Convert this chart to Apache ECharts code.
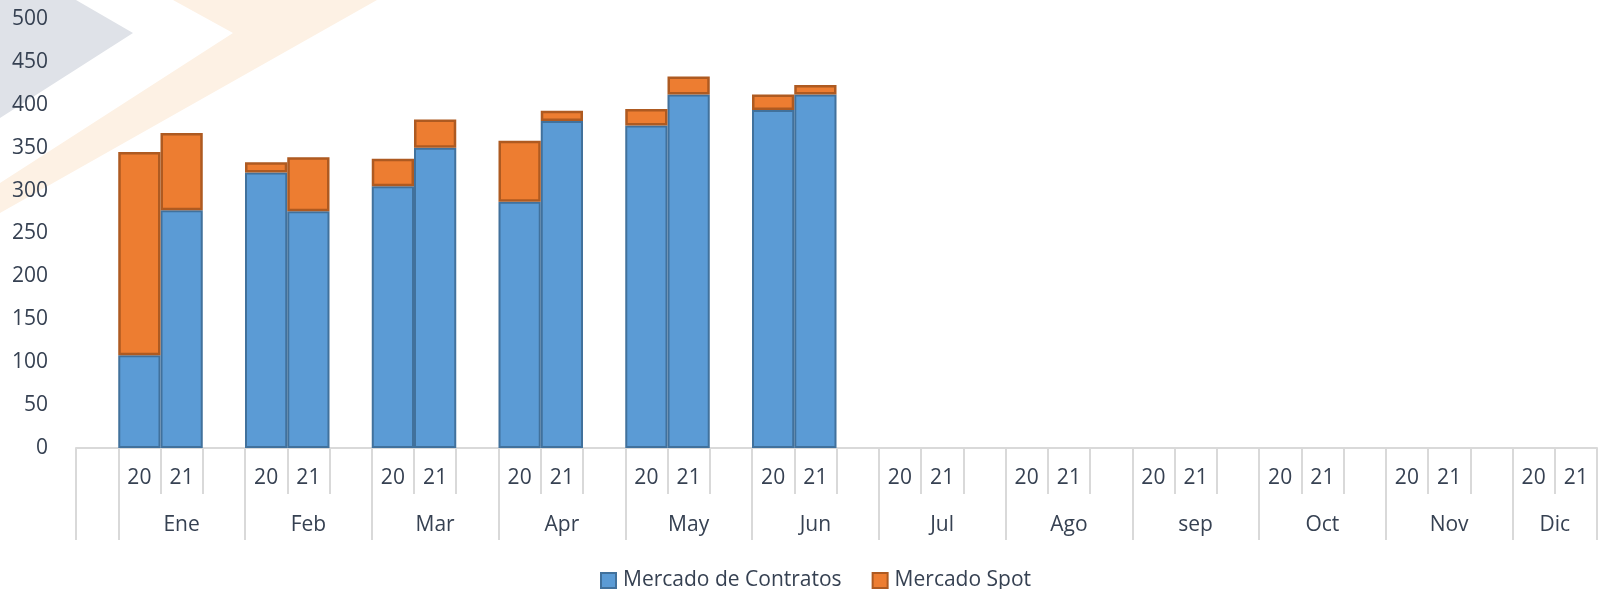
<!DOCTYPE html>
<html>
<head>
<meta charset="utf-8">
<script src="https://cdn.jsdelivr.net/npm/echarts@6/dist/echarts.min.js"></script>
<style>
  html, body { margin: 0; padding: 0; background: #fff; }
  #chart { width: 1599px; height: 589px; }
</style>
</head>
<body>
<div id="chart"></div>
<script>
  // datos (miles)
  var meses = ['Ene', 'Feb', 'Mar', 'Apr', 'May', 'Jun', 'Jul', 'Ago', 'sep', 'Oct', 'Nov', 'Dic'];
  var anios = ['20', '21'];
  var contratos20 = [108, 321, 305, 287, 376, 394];
  var contratos21 = [277, 276, 350, 381, 412, 412];
  var spot20 = [237, 12, 32, 71, 19, 18];
  var spot21 = [90, 63, 33, 12, 21, 11];

  var textColor = '#364152';
  var lineColor = '#d9d9d9';
  var fs = 21;

  // arma las casillas: una vacia al inicio, luego 20, 21, vacia por mes (Dic sin vacia)
  var slotsAnio = [''], slotsMes = [''];
  var serieContratos = ['-'], serieSpot = ['-'];
  for (var i = 0; i < meses.length; i++) {
    slotsAnio.push(anios[0], anios[1]);
    slotsMes.push('', meses[i]);
    serieContratos.push(contratos20[i] != null ? contratos20[i] : '-', contratos21[i] != null ? contratos21[i] : '-');
    serieSpot.push(spot20[i] != null ? spot20[i] : '-', spot21[i] != null ? spot21[i] : '-');
    if (i < meses.length - 1) {
      slotsAnio.push(' ');
      slotsMes.push('');
      serieContratos.push('-');
      serieSpot.push('-');
    }
  }

  var chart = echarts.init(document.getElementById('chart'));
  var option = {
    animation: false,
    textStyle: { fontFamily: 'Open Sans' },
    graphic: [
      { type: 'polygon', z: -10, silent: true,
        shape: { points: [[0, 0], [76, 0], [133, 33], [0, 118]] },
        style: { fill: '#dfe2e8' } },
      { type: 'polygon', z: -10, silent: true,
        shape: { points: [[173, 0], [377, 0], [0, 213], [0, 183], [233, 33]] },
        style: { fill: '#fdf1e4' } }
    ],
    grid: { left: 76, right: 2, top: 19, bottom: 141 },
    legend: {
      left: 595, top: 565,
      itemWidth: 15, itemHeight: 15, itemGap: 30,
      icon: 'rect',
      textStyle: { fontSize: fs, color: textColor, padding: [0, 0, 0, 2] },
      data: ['Mercado de Contratos', 'Mercado Spot']
    },
    xAxis: [
      {
        type: 'category',
        data: slotsAnio,
        position: 'bottom',
        axisLine: { show: true, lineStyle: { color: lineColor, width: 2 } },
        axisTick: { show: true, interval: 0, length: 46, lineStyle: { color: lineColor, width: 2 } },
        axisLabel: { interval: 0, fontSize: fs, color: textColor, margin: 20 },
        splitLine: { show: false }
      },
      {
        type: 'category',
        data: slotsMes,
        position: 'bottom',
        axisLine: { show: false },
        axisTick: {
          show: true, length: 92,
          interval: function (index) { return index === 0 || index % 3 === 1; },
          lineStyle: { color: lineColor, width: 2 }
        },
        axisLabel: {
          interval: 0, fontSize: fs, color: textColor, margin: 67,
          formatter: function (value, index) {
            // el ultimo mes solo tiene dos casillas: centrar entre ellas
            if (index === slotsMes.length - 1) return '{d|' + value + '}';
            return value;
          },
          rich: { d: { fontSize: fs, color: textColor, padding: [0, 42, 0, 0] } }
        },
        splitLine: { show: false }
      }
    ],
    yAxis: {
      type: 'value',
      min: 0, max: 500, interval: 50,
      axisLine: { show: false },
      axisTick: { show: false },
      splitLine: { show: false },
      axisLabel: { fontSize: fs, color: textColor, margin: 28 }
    },
    series: [
      {
        name: 'Mercado de Contratos',
        type: 'bar',
        stack: 'total',
        barCategoryGap: '0%',
        data: serieContratos,
        itemStyle: { color: '#5b9bd5', borderColor: '#41719c', borderWidth: 2 }
      },
      {
        name: 'Mercado Spot',
        type: 'bar',
        stack: 'total',
        barCategoryGap: '0%',
        data: serieSpot,
        itemStyle: { color: '#ed7d31', borderColor: '#ae5a21', borderWidth: 2.5 }
      }
    ]
  };
  chart.setOption(option);
</script>
</body>
</html>
